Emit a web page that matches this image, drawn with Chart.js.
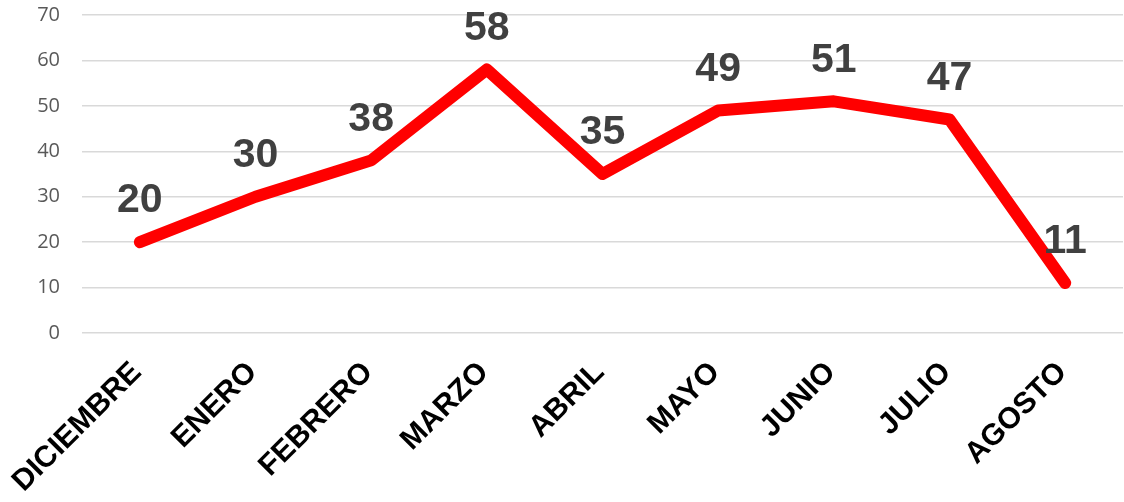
<!DOCTYPE html>
<html>
<head>
<meta charset="utf-8">
<script src="https://cdn.jsdelivr.net/npm/chart.js@4/dist/chart.umd.min.js"></script>
<style>
  html, body { margin: 0; padding: 0; background: #ffffff; }
  #wrap { width: 1124px; height: 502px; }
</style>
</head>
<body>
<div id="wrap"><canvas id="c" width="1124" height="502"></canvas></div>
<script>
const categories = ["DICIEMBRE", "ENERO", "FEBRERO", "MARZO", "ABRIL", "MAYO", "JUNIO", "JULIO", "AGOSTO"];
const values = [20, 30, 38, 58, 35, 49, 51, 47, 11];
const yTicks = [0, 10, 20, 30, 40, 50, 60, 70];

const dataLabels = {
  id: 'dataLabels',
  afterDatasetsDraw(chart) {
    const ctx = chart.ctx;
    const meta = chart.getDatasetMeta(0);
    ctx.save();
    ctx.font = 'bold 41px "Liberation Sans", Arial, sans-serif';
    ctx.fillStyle = '#404040';
    ctx.textAlign = 'center';
    ctx.textBaseline = 'middle';
    meta.data.forEach((pt, i) => {
      ctx.fillText(String(values[i]), pt.x, pt.y - 41);
    });
    ctx.restore();
  }
};

new Chart(document.getElementById('c'), {
  type: 'line',
  data: {
    labels: categories,
    datasets: [{
      data: values,
      borderColor: '#ff0000',
      borderWidth: 12,
      borderCapStyle: 'round',
      borderJoinStyle: 'round',
      pointRadius: 0,
      pointHoverRadius: 0,
      tension: 0,
      fill: false
    }]
  },
  options: {
    responsive: false,
    animation: false,
    devicePixelRatio: 1,
    layout: { padding: { top: 15, right: 1, left: 0, bottom: 0 } },
    plugins: { legend: { display: false }, tooltip: { enabled: false } },
    scales: {
      x: {
        offset: true,
        grid: { display: false, drawTicks: false },
        border: { display: false },
        ticks: {
          minRotation: 45,
          maxRotation: 45,
          autoSkip: false,
          padding: 22,
          labelOffset: -3,
          color: '#000000',
          font: { family: '"Liberation Sans", Arial, sans-serif', size: 30, weight: 'bold' }
        },
        afterFit(axis) { axis.height = 169; axis.paddingLeft = 0; axis.paddingRight = 0; }
      },
      y: {
        min: 0,
        max: 70,
        afterBuildTicks(axis) { axis.ticks = yTicks.map(v => ({ value: v })); },
        grid: { color: '#d9d9d9', lineWidth: 1.5, drawTicks: false },
        border: { display: false },
        ticks: {
          padding: 22,
          color: '#595959',
          font: { family: '"Open Sans", sans-serif', size: 20 }
        },
        afterFit(axis) { axis.width = 82; axis.paddingTop = 0; axis.paddingBottom = 0; }
      }
    }
  },
  plugins: [dataLabels]
});
</script>
</body>
</html>
